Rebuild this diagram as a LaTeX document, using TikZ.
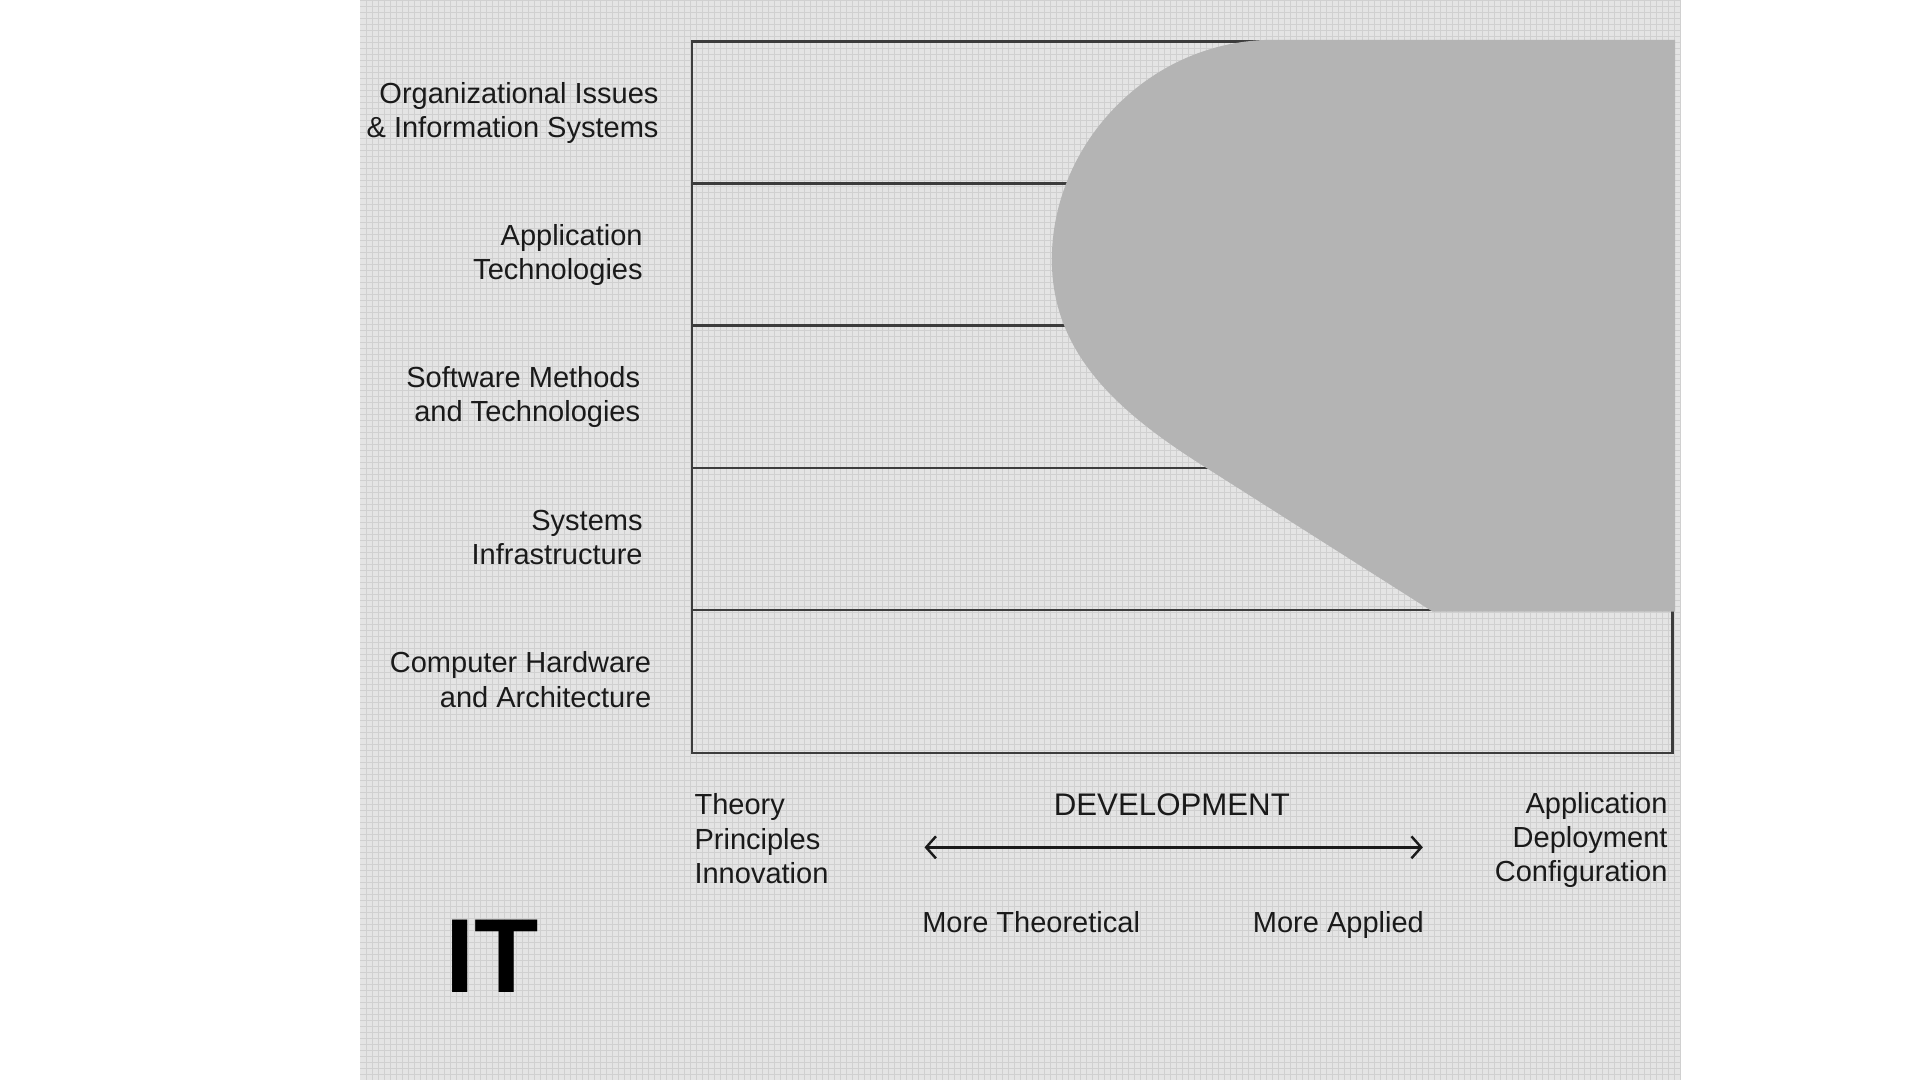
\documentclass[tikz,border=0pt]{standalone}
\usepackage{fontspec}
\setmainfont{Liberation Sans}
\usetikzlibrary{arrows.meta}
\definecolor{panel}{HTML}{E4E4E4}
\definecolor{gridc}{HTML}{D0D0D0}
\definecolor{blob}{HTML}{B4B4B4}
\definecolor{ink}{HTML}{1A1A1A}
\definecolor{frame}{HTML}{3C3C3C}
\begin{document}
\begin{tikzpicture}[x=1pt,y=-1pt,
  lbl/.style={inner sep=0pt, font=\fontsize{23.7}{28}\selectfont, text=ink},
  lblr/.style={lbl, anchor=east, align=right},
  lbll/.style={lbl, anchor=west, align=left},
  frameline/.style={draw=frame, line width=2pt},
  devarrow/.style={draw=ink, line width=2pt,
    {Straight Barb[length=8pt,width=18pt,line width=2pt]}-{Straight Barb[length=8pt,width=18pt,line width=2pt]}}]
\useasboundingbox (0,0) rectangle (1568,882);
\fill[white] (0,0) rectangle (1568,882);
% gridded panel
\fill[panel] (294,0) rectangle (1373,882);
\draw[gridc, line width=0.55pt, step=4.9pt] (294,0) grid (1373,882);
% frame and row lines
\draw[frameline] (565,34) rectangle (1366,615);
\foreach \yy in {150,266,382,498} \draw[frameline] (565,\yy) -- (1366,\yy);
% grey region
\fill[blob] (1368,32.5) -- (1040,32.5)
  .. controls (938,32.5) and (859,118) .. (859,212)
  .. controls (859,290) and (915,338) .. (985,382)
  -- (1170,499.5) -- (1368,499.5) -- cycle;
% row labels
\node[lblr] (org) at (538,92) {Organizational Issues\\\& Information Systems};
\node[lblr] (app) at (525,208) {Application\\Technologies};
\node[lblr] (soft) at (523,324) {Software Methods\\and Technologies};
\node[lblr] (sys) at (525,439) {Systems\\Infrastructure};
\node[lblr] (hw) at (532,555) {Computer Hardware\\and Architecture};
% bottom labels
\node[lbll] (theory) at (567,685) {Theory\\Principles\\Innovation};
\node[lblr] (applic) at (1362,686) {Application\\Deployment\\Configuration};
\node[lbl, font=\fontsize{25.5}{28}\selectfont] (dev) at (957,657) {DEVELOPMENT};
\coordinate (arrL) at (755,692);
\coordinate (arrR) at (1162,692);
\draw[devarrow] (arrL) -- (arrR);
\node[lbl, anchor=base west] (theo) at (753,761.5) {More Theoretical};
\node[lbl, anchor=base east] (applied) at (1163,761.5) {More Applied};
\node[inner sep=0pt, font=\bfseries\fontsize{86}{86}\selectfont, text=black] (it) at (402,781) {IT};
\end{tikzpicture}
\end{document}
